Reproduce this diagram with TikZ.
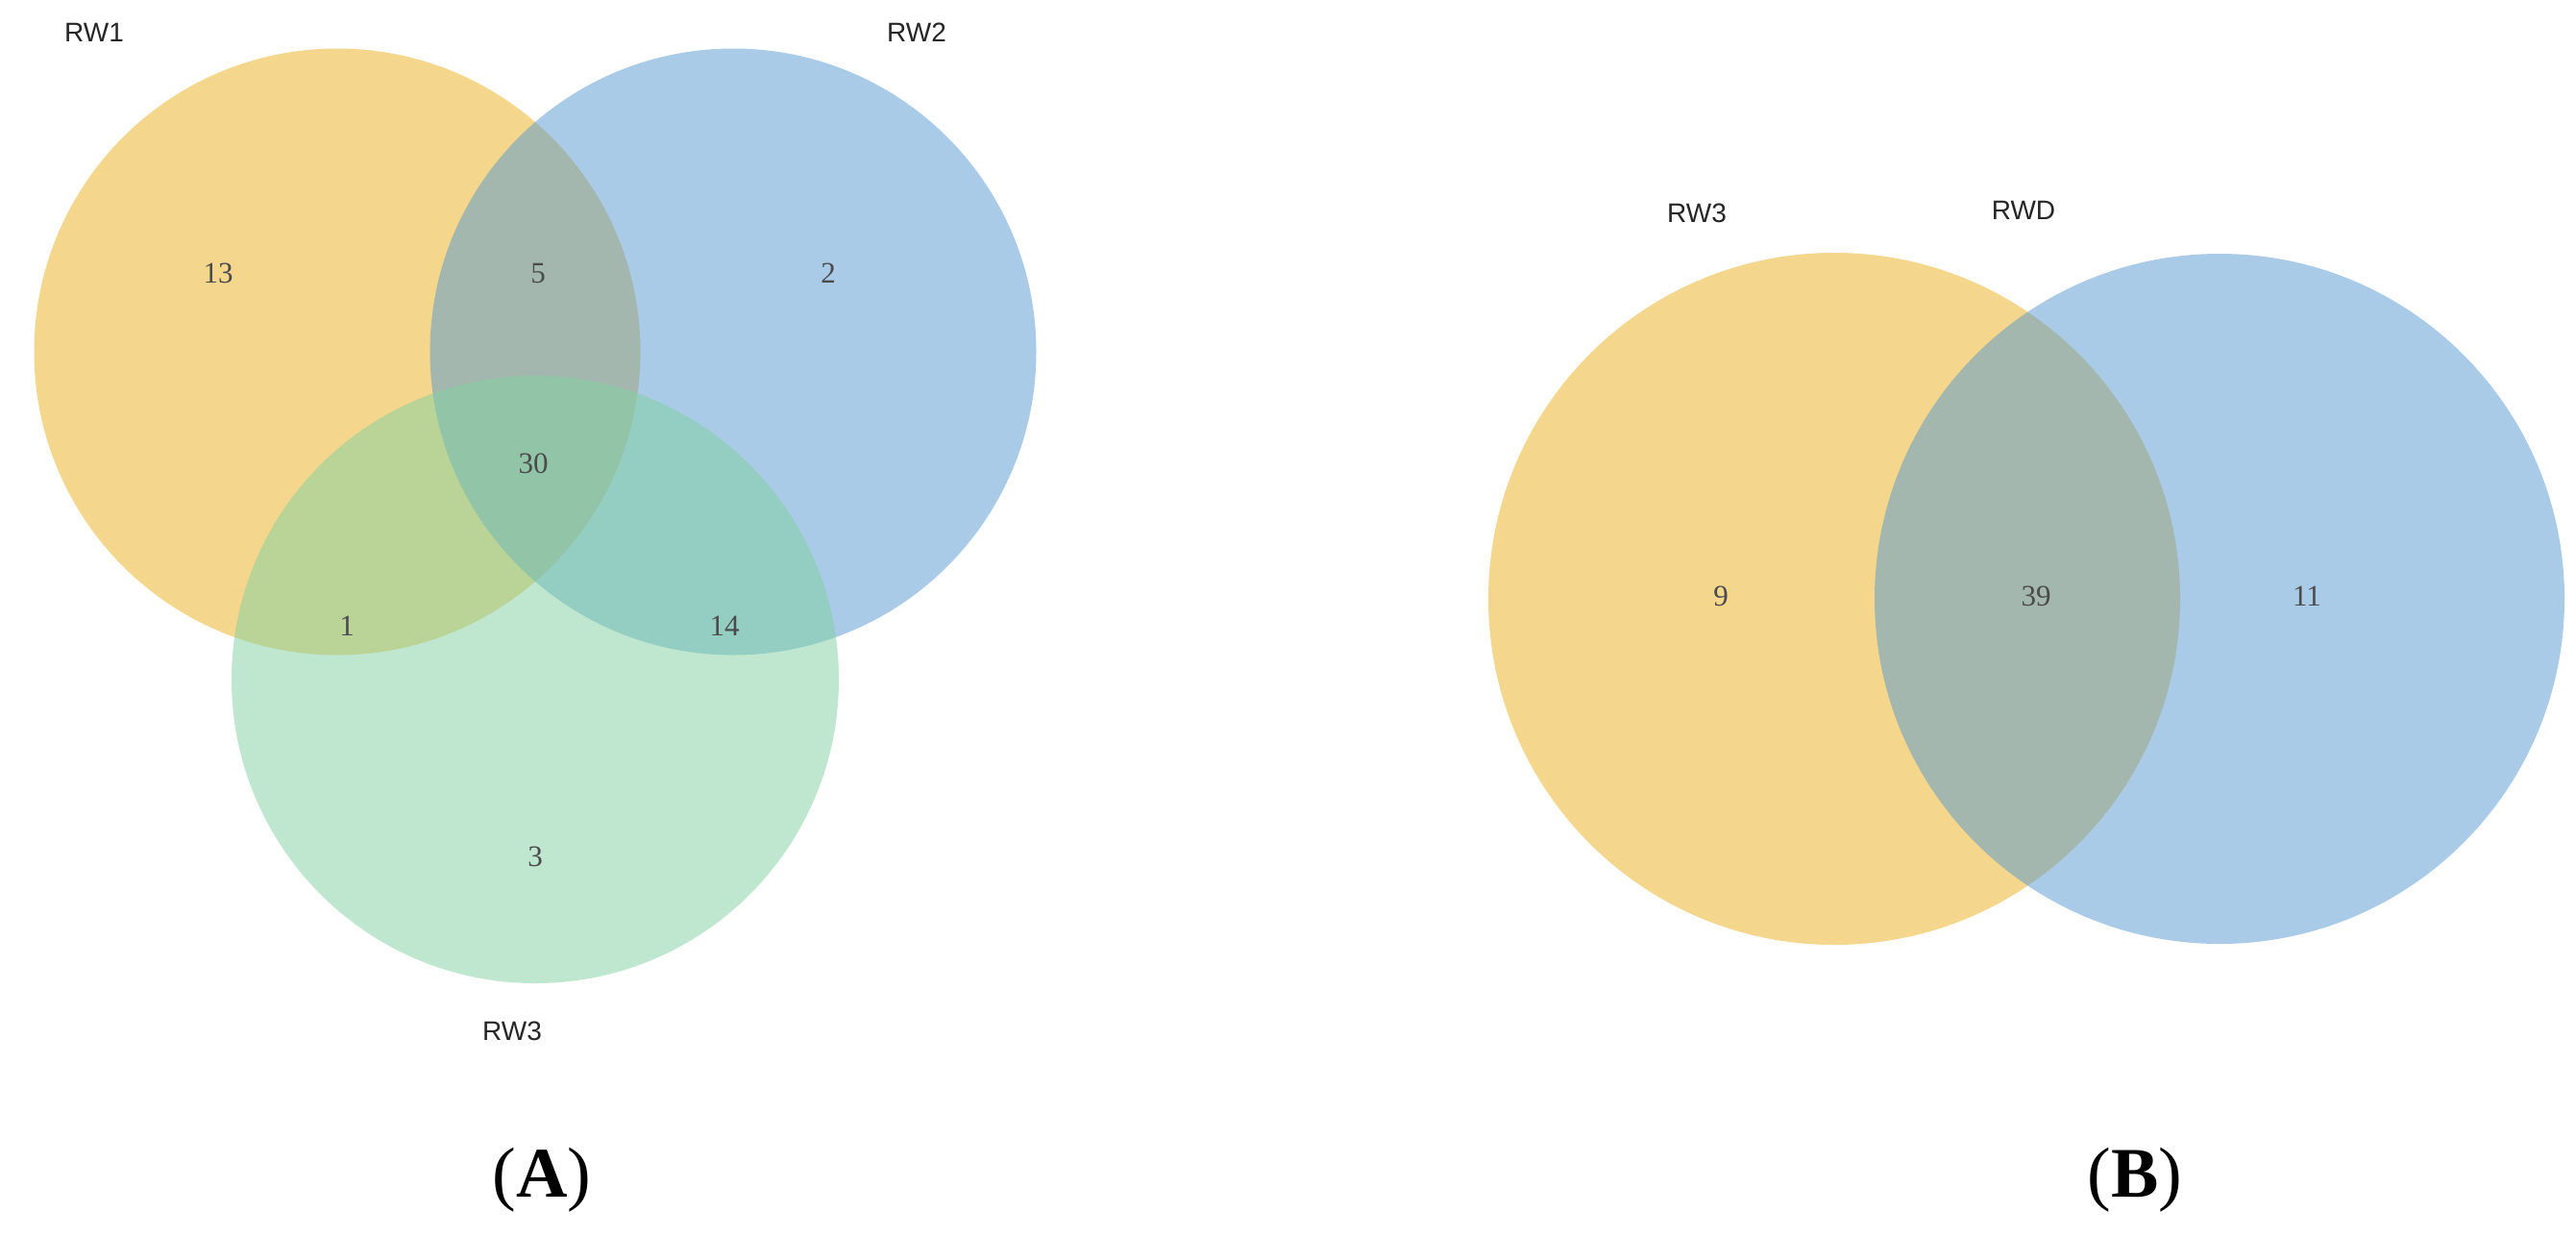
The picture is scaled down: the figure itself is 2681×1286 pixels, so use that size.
\documentclass[tikz,border=0pt]{standalone}
\usepackage{fontspec}
\setmainfont{Liberation Serif}
\newfontfamily\labfont{Liberation Sans}
\definecolor{vorange}{RGB}{235,175,29}
\definecolor{vblue}{RGB}{85,153,209}
\definecolor{vgreen}{RGB}{129,209,161}
\definecolor{numgray}{RGB}{75,75,75}
\begin{document}
\begin{tikzpicture}[x=1pt,y=-1pt,
  setcirc/.style={fill opacity=0.5,draw=none},
  setlab/.style={font=\labfont\fontsize{28}{30}\selectfont,text=black!85,inner sep=0},
  num/.style={font=\fontsize{31}{33}\selectfont,text=numgray,inner sep=0},
  panel/.style={font=\fontsize{74}{80}\selectfont,inner sep=0}]
\useasboundingbox (0,0) rectangle (2681,1286);
\fill[white] (0,0) rectangle (2681,1286);
% Panel A
\fill[setcirc,vorange] (351,366) circle (315.5);
\fill[setcirc,vblue] (763,366) circle (315.5);
\fill[setcirc,vgreen] (557,707) circle (316);
\node[setlab] (l1) at (98,34) {RW1};
\node[setlab] (l2) at (954,34) {RW2};
\node[setlab] (l3) at (533,1073) {RW3};
\node[num] (n13) at (227,284) {13};
\node[num] (n5) at (560,284) {5};
\node[num] (n2) at (862,284) {2};
\node[num] (n30) at (555,482) {30};
\node[num] (n1) at (361,651) {1};
\node[num] (n14) at (754,651) {14};
\node[num] (n3) at (557,891) {3};
\node[panel] (pa) at (564,1228) {(\textbf{A})};
% Panel B
\fill[setcirc,vorange] (1909,623) circle (360);
\fill[setcirc,vblue] (2310,623) circle (359);
\node[setlab] (l4) at (1766,222) {RW3};
\node[setlab] (l5) at (2106,219) {RWD};
\node[num] (n9) at (1791,620) {9};
\node[num] (n39) at (2119,620) {39};
\node[num] (n11) at (2401,620) {11};
\node[panel] (pb) at (2222,1228) {(\textbf{B})};
\end{tikzpicture}
\end{document}
